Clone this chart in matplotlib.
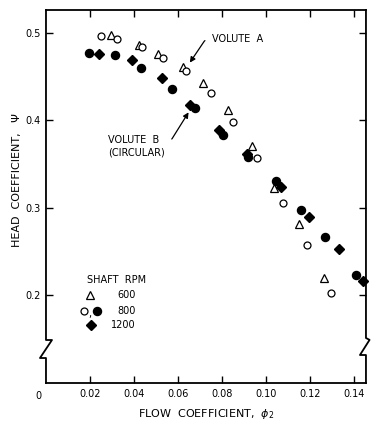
import matplotlib.pyplot as plt

# Shaft 600 rpm (volute A), open triangles
phi_600 = [0.0295, 0.0421, 0.0510, 0.0624, 0.0715, 0.0826, 0.0936, 0.1038, 0.1152, 0.1264]
psi_600 = [0.497, 0.486, 0.476, 0.461, 0.442, 0.412, 0.371, 0.323, 0.281, 0.220]

# Shaft 800 rpm, volute A (open circles)
phi_800a = [0.0250, 0.0321, 0.0435, 0.0533, 0.0636, 0.0750, 0.0851, 0.0958, 0.1079, 0.1185, 0.1294]
psi_800a = [0.496, 0.493, 0.483, 0.471, 0.456, 0.431, 0.398, 0.357, 0.306, 0.257, 0.2025]

# Shaft 800 rpm, volute B (filled circles)
phi_800b = [0.0195, 0.0315, 0.0433, 0.0574, 0.0677, 0.0803, 0.0920, 0.1045, 0.1158, 0.1268, 0.1409]
psi_800b = [0.477, 0.474, 0.459, 0.435, 0.414, 0.383, 0.358, 0.330, 0.298, 0.267, 0.2235]

# Shaft 1200 rpm (volute B), filled diamonds
phi_1200 = [0.0242, 0.0390, 0.0526, 0.0655, 0.0788, 0.0915, 0.1067, 0.1197, 0.1332, 0.1442]
psi_1200 = [0.476, 0.469, 0.448, 0.417, 0.389, 0.361, 0.324, 0.290, 0.253, 0.216]

x_ticks = [0.02, 0.04, 0.06, 0.08, 0.10, 0.12, 0.14]
x_labels = ["0.02", "0.04", "0.06", "0.08", "0.10", "0.12", "0.14"]
y_ticks = [0.2, 0.3, 0.4, 0.5]
y_labels = ["0.2", "0.3", "0.4", "0.5"]

plt.rcParams['font.family'] = ['DejaVu Sans']
fig = plt.figure(figsize=(3.76, 4.25), dpi=100)
ax = fig.add_axes([0.1223, 0.0988, 0.851, 0.8777])
ax.set_xlim(0, 0.1455)
ax.set_ylim(0.1, 0.5257)

lw = 1.3
ms = dict(clip_on=False, linestyle='none')
ax.plot(phi_600, psi_600, marker='^', markersize=5.5, mfc='white', mec='black', mew=0.9, **ms)
ax.plot(phi_800a, psi_800a, marker='o', markersize=5, mfc='white', mec='black', mew=0.9, **ms)
ax.plot(phi_800b, psi_800b, marker='o', markersize=5.8, color='black', **ms)
ax.plot(phi_1200, psi_1200, marker='D', markersize=5, color='black', **ms)

# spines: left and right drawn by hand with the break marks
ax.spines['left'].set_visible(False)
ax.spines['right'].set_visible(False)
for s in ['top', 'bottom']:
    ax.spines[s].set_linewidth(lw)
t = ax.transAxes
j = 6 / 320
yb1, yb2 = (383 - 340) / 373, (383 - 358) / 373
ax.plot([0, 0, j, -j, 0, 0], [1, yb1, yb1, yb2, yb2, 0], color='black',
        lw=lw, transform=t, clip_on=False)
yr1, yr2 = (383 - 338) / 373, (383 - 355) / 373
ax.plot([1, 1, 1 + 0.6 * j, 1 - j, 1, 1], [1, yr1, yr1 - 0.005, yr2, yr2, 0],
        color='black', lw=lw, transform=t, clip_on=False)

ax.set_xticks(x_ticks)
ax.set_xticklabels(x_labels)
ax.set_yticks(y_ticks)
ax.set_yticklabels(y_labels)
ax.tick_params(direction='in', length=5, width=1, top=True, right=True,
               labelsize=7, pad=4)
ax.text(-0.025, -0.022, "0", transform=t, fontsize=7, ha='center', va='top')

ax.set_xlabel(r"FLOW  COEFFICIENT,  $\phi_2$", fontsize=8, labelpad=6)
ax.set_ylabel("HEAD  COEFFICIENT,   Ψ", fontsize=8)
ax.yaxis.set_label_coords(-0.075, 0.545)

# annotations
ax.text(0.0755, 0.4926, "VOLUTE  A", fontsize=7, va='center')
ax.annotate("", xy=(0.0647, 0.463), xytext=(0.0735, 0.4915),
            arrowprops=dict(arrowstyle='-|>', color='black', lw=0.9,
                            mutation_scale=8,
                            connectionstyle="angle,angleA=0,angleB=56,rad=2"))
ax.text(0.0282, 0.3774, "VOLUTE  B", fontsize=7, va='center')
ax.text(0.0282, 0.3626, "(CIRCULAR)", fontsize=7, va='center')
ax.annotate("", xy=(0.0655, 0.4116), xytext=(0.0560, 0.3774),
            arrowprops=dict(arrowstyle='-|>', color='black', lw=0.9,
                            mutation_scale=8,
                            connectionstyle="angle,angleA=0,angleB=58,rad=2"))

# legend drawn by hand
ax.text(0.128, 0.276, "SHAFT  RPM", transform=t, fontsize=7, va='center')
ax.plot([0.1375], [0.236], marker='^', markersize=5.5, mfc='white', mec='black',
        mew=0.9, transform=t)
ax.plot([0.119], [0.193], marker='o', markersize=5, mfc='white', mec='black',
        mew=0.9, transform=t)
ax.text(0.137, 0.185, ",", transform=t, fontsize=7, ha='center', va='center')
ax.plot([0.159], [0.193], marker='o', markersize=5.8, color='black', transform=t)
ax.plot([0.141], [0.155], marker='D', markersize=5, color='black', transform=t)
ax.text(0.280, 0.236, "600", transform=t, fontsize=7, ha='right', va='center')
ax.text(0.280, 0.193, "800", transform=t, fontsize=7, ha='right', va='center')
ax.text(0.280, 0.155, "1200", transform=t, fontsize=7, ha='right', va='center')

fig.savefig("out.png", dpi=100)
